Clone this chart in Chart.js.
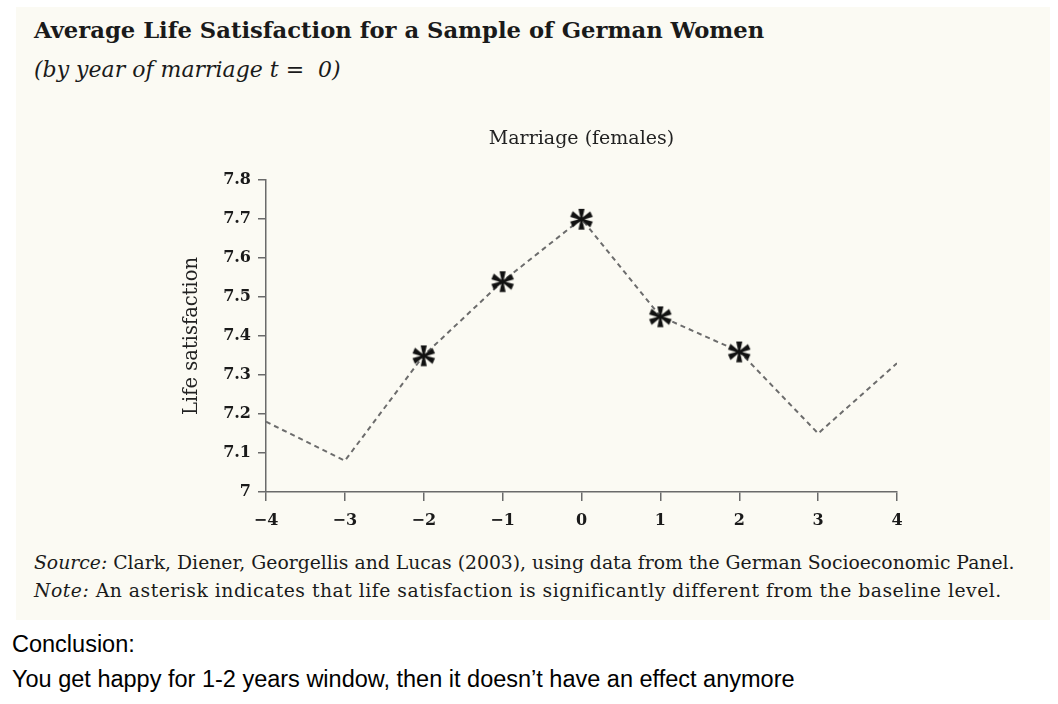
<!DOCTYPE html>
<html lang="en">
<head>
<meta charset="UTF-8">
<title>Average Life Satisfaction for a Sample of German Women</title>
<script src="https://cdn.jsdelivr.net/npm/chart.js"></script>
<style>
  html, body { margin: 0; padding: 0; background: #fff; }
  body { width: 1058px; height: 704px; position: relative; overflow: hidden; }
  .panel { position: absolute; left: 16px; top: 7px; width: 1034px; height: 613px; background: #fbfaf3; }
  .serif { font-family: "DejaVu Serif", "Liberation Serif", serif; color: #1a1a1a; position: absolute; white-space: nowrap; line-height: 1; }
  .title { left: 34px; top: 19px; font-size: 22.7px; font-weight: bold; }
  .sub { left: 34px; top: 59px; font-size: 22px; font-style: italic; }
  .src { left: 34px; font-size: 18.8px; }
  .sans { font-family: "Liberation Sans", Arial, sans-serif; position: absolute; left: 12px; font-size: 23.5px; color: #000; white-space: nowrap; line-height: 1; }
  .chartBox { position: absolute; left: 150px; top: 110px; width: 780px; height: 440px; }
</style>
</head>
<body>
  <div class="panel"></div>
  <div class="serif title">Average Life Satisfaction for a Sample of German Women</div>
  <div class="serif sub">(by year of marriage t =&nbsp; 0)</div>
  <div class="chartBox"><canvas id="myChart"></canvas></div>
  <div class="serif src" style="top:554px"><i>Source:</i> Clark, Diener, Georgellis and Lucas (2003), using data from the German Socioeconomic Panel.</div>
  <div class="serif src" style="top:582px; letter-spacing:0.5px"><i>Note:</i> An asterisk indicates that life satisfaction is significantly different from the baseline level.</div>
  <div class="sans" style="top:633px">Conclusion:</div>
  <div class="sans" style="top:668px">You get happy for 1-2 years window, then it doesn’t have an effect anymore</div>

<script>
// data
const years = [-4, -3, -2, -1, 0, 1, 2, 3, 4];
const satisfaction = [7.18, 7.08, 7.35, 7.54, 7.70, 7.45, 7.36, 7.15, 7.33];
const significant = [false, false, true, true, true, true, true, false, false];
const yTicks = [7, 7.1, 7.2, 7.3, 7.4, 7.5, 7.6, 7.7, 7.8];

// asterisk marker drawn once on a small canvas
function makeStar() {
  const c = document.createElement('canvas');
  c.width = 34; c.height = 34;
  const g = c.getContext('2d');
  g.font = 'bold 54px "Liberation Serif"';
  g.fillStyle = '#111';
  g.textAlign = 'center';
  const m = g.measureText('*');
  g.fillText('*', 17, 17 + (m.actualBoundingBoxAscent - m.actualBoundingBoxDescent) / 2);
  return c;
}
const star = makeStar();

const serif = '"DejaVu Serif", "Liberation Serif", serif';
const axisGrey = '#6a6a6a';

const data = {
  datasets: [{
    label: 'Marriage (females)',
    data: years.map((x, i) => ({ x: x, y: satisfaction[i] })),
    borderColor: '#6c6c6c',
    borderWidth: 2,
    borderDash: [5, 4],
    fill: false,
    tension: 0,
    pointStyle: star,
    pointRadius: significant.map(s => s ? 10 : 0),
    pointHoverRadius: significant.map(s => s ? 10 : 0)
  }]
};

const config = {
  type: 'line',
  data,
  options: {
    responsive: true,
    maintainAspectRatio: false,
    animation: false,
    layout: { padding: { left: 0, right: 33, top: 0, bottom: 0 } },
    plugins: {
      legend: { display: false },
      tooltip: { enabled: false },
      title: {
        display: true,
        text: 'Marriage (females)',
        fullSize: false,
        color: '#222',
        font: { family: serif, size: 19, weight: 'normal' },
        padding: { top: 18, bottom: 29 }
      }
    },
    scales: {
      x: {
        type: 'linear',
        min: -4,
        max: 4,
        afterFit: s => { s.height = 58; },
        border: { display: true, color: axisGrey, width: 1.5 },
        grid: { drawOnChartArea: false, drawTicks: true, tickLength: 9, color: axisGrey, lineWidth: 1.5 },
        ticks: {
          stepSize: 1,
          padding: 10,
          color: '#1a1a1a',
          font: { family: serif, size: 16, weight: 'bold' },
          callback: v => (v < 0 ? '\u2212' + Math.abs(v) : String(v))
        }
      },
      y: {
        min: 7,
        max: 7.8,
        afterFit: s => { s.width = 116; },
        afterBuildTicks: s => { s.ticks = yTicks.map(v => ({ value: v })); },
        border: { display: true, color: axisGrey, width: 1.5 },
        grid: { drawOnChartArea: false, drawTicks: true, tickLength: 8, color: axisGrey, lineWidth: 1.5 },
        ticks: {
          padding: 7,
          color: '#1a1a1a',
          font: { family: serif, size: 16, weight: 'bold' },
          callback: v => String(Math.round(v * 10) / 10)
        },
        title: {
          display: true,
          text: 'Life satisfaction',
          color: '#222',
          font: { family: serif, size: 19.5, weight: 'normal' },
          padding: { top: 30, bottom: 0 }
        }
      }
    }
  }
};

const myChart = new Chart(document.getElementById('myChart'), config);
</script>
</body>
</html>
